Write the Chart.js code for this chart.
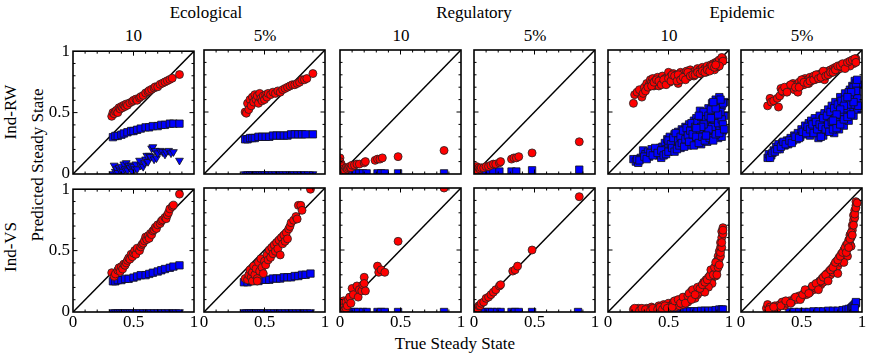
<!DOCTYPE html>
<html><head><meta charset="utf-8">
<script src="https://cdn.jsdelivr.net/npm/chart.js@4/dist/chart.umd.min.js"></script>
<style>
html,body{margin:0;padding:0;background:#fff;}
body{width:872px;height:359px;position:relative;overflow:hidden;font-family:'Liberation Serif','Times New Roman',serif;}
canvas{position:absolute;}
.t{position:absolute;font-size:17px;line-height:17px;white-space:nowrap;transform:translate(-50%,-50%);color:#000;}
.r{transform:translate(-50%,-50%) rotate(-90deg);}
</style></head><body>
<div class="t" style="left:206px;top:11.5px">Ecological</div>
<div class="t" style="left:474px;top:11.5px">Regulatory</div>
<div class="t" style="left:742px;top:11.5px">Epidemic</div>
<div class="t" style="left:133.5px;top:35px">10</div>
<div class="t" style="left:265px;top:35px">5%</div>
<div class="t" style="left:401px;top:35px">10</div>
<div class="t" style="left:535px;top:35px">5%</div>
<div class="t" style="left:669px;top:35px">10</div>
<div class="t" style="left:802px;top:35px">5%</div>
<div class="t r" style="left:10px;top:112px">Ind-RW</div>
<div class="t r" style="left:10px;top:247px">Ind-VS</div>
<div class="t r" style="left:37px;top:165px">Predicted Steady State</div>
<div class="t" style="left:455px;top:343px">True Steady State</div>
<script>
// ---------- tick labels ----------
const tickValues = [0, 0.5, 1];
const tickLabels = ['0', '0.5', '1'];
const minorTicks = [0.1, 0.2, 0.3, 0.4, 0.5, 0.6, 0.7, 0.8, 0.9];
const diagonal = [[0, 0], [1, 1]];

// ---------- Ecological, Ind-RW, 10 ----------
const ecoRW10Circles = [[0.32,0.47],[0.33,0.50],[0.34,0.49],[0.35,0.51],[0.36,0.52],[0.37,0.50],[0.38,0.54],[0.39,0.53],[0.40,0.55],[0.41,0.54],[0.42,0.56],[0.43,0.55],[0.44,0.57],[0.45,0.56],[0.47,0.58],[0.49,0.59],[0.50,0.60],[0.52,0.61],[0.53,0.60],[0.55,0.62],[0.56,0.63],[0.58,0.64],[0.60,0.66],[0.62,0.67],[0.63,0.68],[0.65,0.69],[0.67,0.70],[0.68,0.71],[0.70,0.71],[0.72,0.73],[0.74,0.74],[0.76,0.75],[0.78,0.76],[0.80,0.77],[0.82,0.78],[0.88,0.81]];
const ecoRW10Squares = [[0.33,0.30],[0.35,0.31],[0.37,0.31],[0.40,0.32],[0.42,0.33],[0.45,0.34],[0.48,0.35],[0.50,0.35],[0.53,0.36],[0.56,0.37],[0.60,0.38],[0.63,0.38],[0.66,0.39],[0.70,0.39],[0.73,0.40],[0.76,0.40],[0.80,0.41],[0.83,0.41],[0.88,0.41]];
const ecoRW10Triangles = [[0.33,0.00],[0.34,0.07],[0.35,0.02],[0.36,0.04],[0.37,0.01],[0.38,0.05],[0.39,0.03],[0.40,0.06],[0.41,0.02],[0.42,0.08],[0.43,0.04],[0.44,0.09],[0.45,0.03],[0.46,0.07],[0.47,0.05],[0.48,0.07],[0.49,0.02],[0.50,0.06],[0.51,0.04],[0.52,0.08],[0.53,0.04],[0.55,0.11],[0.56,0.07],[0.58,0.06],[0.59,0.09],[0.60,0.12],[0.61,0.15],[0.62,0.10],[0.63,0.15],[0.64,0.14],[0.65,0.21],[0.66,0.22],[0.67,0.12],[0.68,0.19],[0.69,0.13],[0.70,0.17],[0.72,0.19],[0.74,0.18],[0.76,0.16],[0.77,0.18],[0.79,0.19],[0.81,0.17],[0.83,0.18],[0.88,0.11]];

// ---------- Ecological, Ind-RW, 5% ----------
const ecoRW5Circles = [[0.34,0.50],[0.35,0.49],[0.36,0.57],[0.37,0.52],[0.38,0.60],[0.39,0.55],[0.40,0.62],[0.41,0.58],[0.42,0.64],[0.43,0.60],[0.44,0.63],[0.45,0.57],[0.46,0.65],[0.47,0.61],[0.48,0.59],[0.49,0.63],[0.50,0.60],[0.51,0.64],[0.52,0.62],[0.53,0.65],[0.55,0.64],[0.57,0.66],[0.59,0.65],[0.61,0.67],[0.63,0.66],[0.65,0.68],[0.67,0.69],[0.69,0.70],[0.71,0.71],[0.73,0.72],[0.75,0.72],[0.77,0.73],[0.79,0.74],[0.81,0.76],[0.83,0.76],[0.85,0.77],[0.90,0.81]];
const ecoRW5Squares = [[0.34,0.28],[0.36,0.28],[0.38,0.29],[0.40,0.29],[0.42,0.29],[0.45,0.30],[0.48,0.30],[0.51,0.30],[0.54,0.30],[0.57,0.31],[0.60,0.31],[0.63,0.31],[0.66,0.31],[0.69,0.31],[0.72,0.32],[0.75,0.32],[0.78,0.32],[0.81,0.32],[0.84,0.32],[0.90,0.32]];
const ecoRW5Triangles = [[0.34,0],[0.36,0],[0.38,0],[0.40,0],[0.42,0],[0.44,0],[0.46,0],[0.48,0],[0.50,0],[0.53,0],[0.56,0],[0.59,0],[0.62,0],[0.65,0],[0.68,0],[0.71,0],[0.74,0],[0.77,0],[0.80,0],[0.83,0],[0.86,0],[0.90,0]];

// ---------- Regulatory, Ind-RW ----------
const regRW10Circles = [[0.00,0.13],[0.00,0.10],[0.01,0.08],[0.01,0.05],[0.02,0.03],[0.02,0.06],[0.03,0.02],[0.03,0.04],[0.04,0.03],[0.05,0.05],[0.06,0.04],[0.07,0.05],[0.08,0.06],[0.09,0.05],[0.10,0.07],[0.12,0.07],[0.14,0.08],[0.16,0.08],[0.20,0.09],[0.21,0.10],[0.29,0.11],[0.31,0.12],[0.33,0.12],[0.35,0.13],[0.48,0.14],[0.86,0.19]];
const regRW10Squares = [[0.03,0.005],[0.07,0.005],[0.10,0.005],[0.13,0.005],[0.16,0.005],[0.19,0.005],[0.22,0.005],[0.31,0.005],[0.34,0.005],[0.37,0.005],[0.48,0.005],[0.86,0.005]];
const regRW5Circles = [[0.01,0.04],[0.02,0.06],[0.03,0.03],[0.04,0.05],[0.05,0.04],[0.06,0.05],[0.08,0.05],[0.10,0.06],[0.12,0.06],[0.14,0.07],[0.16,0.08],[0.18,0.08],[0.21,0.09],[0.22,0.10],[0.31,0.12],[0.33,0.13],[0.35,0.13],[0.37,0.14],[0.48,0.17],[0.87,0.26]];
const regRW5Squares = [[0.02,0.005],[0.07,0.01],[0.10,0.01],[0.13,0.01],[0.16,0.015],[0.21,0.02],[0.31,0.02],[0.35,0.02],[0.48,0.03],[0.87,0.035]];

// ---------- Epidemic, Ind-RW ----------
const epiRW10Circles = [[0.21,0.57],[0.22,0.64],[0.24,0.66],[0.26,0.68],[0.28,0.62],[0.29,0.65],[0.30,0.70],[0.31,0.67],[0.32,0.73],[0.34,0.72],[0.35,0.76],[0.36,0.74],[0.37,0.77],[0.38,0.71],[0.39,0.75],[0.40,0.73],[0.41,0.78],[0.42,0.71],[0.43,0.74],[0.44,0.76],[0.45,0.79],[0.46,0.73],[0.47,0.77],[0.48,0.75],[0.49,0.78],[0.50,0.82],[0.51,0.74],[0.52,0.79],[0.53,0.77],[0.54,0.81],[0.55,0.76],[0.56,0.78],[0.57,0.80],[0.58,0.73],[0.59,0.77],[0.60,0.82],[0.61,0.79],[0.62,0.81],[0.63,0.77],[0.64,0.80],[0.65,0.83],[0.66,0.78],[0.67,0.81],[0.68,0.84],[0.69,0.80],[0.70,0.82],[0.71,0.79],[0.72,0.83],[0.73,0.81],[0.74,0.85],[0.75,0.82],[0.76,0.84],[0.77,0.81],[0.78,0.86],[0.79,0.83],[0.80,0.85],[0.81,0.82],[0.82,0.87],[0.83,0.84],[0.84,0.86],[0.85,0.88],[0.86,0.85],[0.87,0.89],[0.88,0.87],[0.89,0.90],[0.90,0.88],[0.91,0.91],[0.92,0.89],[0.93,0.92],[0.94,0.91],[0.95,0.93],[0.93,0.90],[0.90,0.86],[0.88,0.84],
  [0.33,0.70],[0.36,0.71],[0.38,0.74],[0.40,0.76],[0.42,0.75],[0.44,0.72],[0.46,0.76],[0.48,0.72],[0.50,0.77],[0.52,0.75],[0.53,0.80],[0.55,0.79],[0.57,0.75],[0.58,0.80],[0.60,0.76],[0.62,0.78],[0.64,0.76],[0.66,0.82],[0.68,0.79],[0.70,0.80],[0.72,0.80],[0.74,0.82],[0.76,0.81],[0.78,0.83],[0.80,0.82],[0.82,0.84],[0.84,0.83],[0.86,0.87],[0.88,0.86],[0.90,0.90],[0.92,0.92],[0.94,0.94],[0.95,0.91],[0.92,0.87],[0.89,0.88]];
const epiRW10Squares = [[0.21,0.12],[0.23,0.10],[0.25,0.09],[0.27,0.13],[0.29,0.19],[0.31,0.16],[0.33,0.18],[0.34,0.14],[0.36,0.20],[0.38,0.17],[0.40,0.19],[0.42,0.15],[0.43,0.21],[0.44,0.13],[0.45,0.22],[0.46,0.18],[0.47,0.25],[0.48,0.20],[0.49,0.28],[0.50,0.23],[0.51,0.30],[0.52,0.19],[0.53,0.26],[0.54,0.22],[0.55,0.32],[0.56,0.27],[0.57,0.24],[0.58,0.34],[0.59,0.29],[0.60,0.21],[0.61,0.36],[0.62,0.31],[0.63,0.26],[0.64,0.38],[0.65,0.33],[0.66,0.23],[0.67,0.40],[0.68,0.30],[0.69,0.36],[0.70,0.27],[0.71,0.43],[0.72,0.34],[0.73,0.45],[0.74,0.29],[0.75,0.39],[0.76,0.51],[0.77,0.24],[0.78,0.42],[0.79,0.33],[0.80,0.48],[0.81,0.37],[0.82,0.26],[0.83,0.53],[0.84,0.41],[0.85,0.31],[0.86,0.57],[0.87,0.45],[0.88,0.36],[0.89,0.60],[0.90,0.50],[0.91,0.29],[0.92,0.62],[0.93,0.42],[0.94,0.55],[0.95,0.35],[0.96,0.47],[0.96,0.58],[0.94,0.30],[0.92,0.38],[0.90,0.44],[0.88,0.52],
  [0.24,0.12],[0.26,0.11],[0.30,0.14],[0.32,0.12],[0.35,0.17],[0.37,0.15],[0.39,0.21],[0.41,0.17],[0.44,0.19],[0.46,0.15],[0.48,0.16],[0.50,0.18],[0.50,0.27],[0.52,0.24],[0.53,0.21],[0.54,0.29],[0.55,0.18],[0.56,0.33],[0.57,0.20],[0.58,0.27],[0.59,0.23],[0.60,0.30],[0.61,0.25],[0.62,0.35],[0.63,0.22],[0.64,0.28],[0.65,0.37],[0.66,0.31],[0.67,0.26],[0.68,0.35],[0.69,0.41],[0.70,0.32],[0.71,0.23],[0.72,0.38],[0.73,0.30],[0.74,0.42],[0.75,0.25],[0.76,0.36],[0.77,0.46],[0.78,0.30],[0.79,0.50],[0.80,0.27],[0.81,0.44],[0.82,0.34],[0.83,0.47],[0.84,0.29],[0.85,0.52],[0.86,0.38],[0.87,0.27],[0.88,0.44],[0.89,0.32],[0.90,0.56],[0.91,0.41],[0.92,0.33],[0.93,0.50],[0.94,0.44],[0.95,0.57],[0.95,0.40],[0.96,0.36],[0.93,0.60],[0.91,0.48],[0.89,0.53],[0.87,0.58],[0.85,0.45],[0.83,0.36],[0.81,0.31],[0.79,0.40],[0.77,0.38],[0.75,0.47],[0.73,0.37]];
const epiRW5Circles = [[0.22,0.55],[0.24,0.61],[0.25,0.58],[0.27,0.59],[0.30,0.61],[0.31,0.54],[0.32,0.63],[0.33,0.69],[0.35,0.66],[0.37,0.68],[0.39,0.69],[0.40,0.71],[0.42,0.70],[0.43,0.73],[0.44,0.68],[0.46,0.72],[0.47,0.66],[0.48,0.74],[0.49,0.71],[0.50,0.73],[0.51,0.76],[0.52,0.72],[0.53,0.77],[0.54,0.74],[0.55,0.76],[0.56,0.73],[0.57,0.78],[0.58,0.75],[0.59,0.77],[0.60,0.79],[0.61,0.76],[0.62,0.78],[0.63,0.80],[0.64,0.79],[0.65,0.77],[0.66,0.81],[0.67,0.78],[0.68,0.80],[0.69,0.76],[0.70,0.82],[0.71,0.80],[0.72,0.83],[0.73,0.81],[0.74,0.84],[0.75,0.82],[0.76,0.85],[0.77,0.83],[0.78,0.86],[0.79,0.84],[0.80,0.85],[0.81,0.87],[0.82,0.85],[0.83,0.88],[0.84,0.86],[0.85,0.88],[0.86,0.87],[0.87,0.89],[0.88,0.88],[0.89,0.90],[0.90,0.89],[0.91,0.91],[0.92,0.90],[0.93,0.92],[0.94,0.91],[0.95,0.93],[0.93,0.89],[0.90,0.87],
  [0.34,0.67],[0.36,0.70],[0.38,0.66],[0.41,0.72],[0.45,0.70],[0.48,0.70],[0.50,0.76],[0.52,0.74],[0.55,0.73],[0.57,0.75],[0.60,0.76],[0.62,0.80],[0.64,0.77],[0.66,0.78],[0.68,0.83],[0.70,0.79],[0.72,0.80],[0.74,0.82],[0.76,0.82],[0.78,0.84],[0.80,0.87],[0.82,0.87],[0.84,0.89],[0.86,0.85],[0.88,0.90],[0.90,0.91],[0.92,0.92],[0.94,0.93],[0.95,0.90]];
const epiRW5Squares = [[0.22,0.13],[0.23,0.16],[0.25,0.15],[0.27,0.19],[0.29,0.22],[0.31,0.24],[0.32,0.20],[0.34,0.25],[0.36,0.23],[0.38,0.27],[0.39,0.24],[0.41,0.29],[0.43,0.27],[0.44,0.31],[0.46,0.28],[0.47,0.33],[0.49,0.30],[0.50,0.36],[0.52,0.32],[0.53,0.39],[0.55,0.35],[0.56,0.41],[0.57,0.31],[0.58,0.43],[0.60,0.38],[0.61,0.45],[0.62,0.33],[0.63,0.42],[0.64,0.29],[0.65,0.47],[0.66,0.36],[0.67,0.44],[0.68,0.31],[0.69,0.49],[0.70,0.40],[0.71,0.35],[0.72,0.52],[0.73,0.44],[0.74,0.38],[0.75,0.55],[0.76,0.47],[0.77,0.33],[0.78,0.58],[0.79,0.42],[0.80,0.51],[0.81,0.36],[0.82,0.62],[0.83,0.46],[0.84,0.55],[0.85,0.39],[0.86,0.65],[0.87,0.50],[0.88,0.58],[0.89,0.43],[0.90,0.68],[0.91,0.54],[0.92,0.71],[0.93,0.47],[0.94,0.75],[0.95,0.60],[0.96,0.66],[0.96,0.52],[0.97,0.72],[0.94,0.64],
  [0.24,0.13],[0.26,0.17],[0.28,0.18],[0.30,0.20],[0.33,0.22],[0.35,0.26],[0.37,0.24],[0.40,0.27],[0.42,0.25],[0.45,0.30],[0.48,0.29],[0.51,0.34],[0.54,0.33],[0.55,0.38],[0.57,0.36],[0.59,0.40],[0.60,0.33],[0.62,0.42],[0.63,0.36],[0.65,0.40],[0.66,0.30],[0.67,0.38],[0.68,0.45],[0.70,0.36],[0.71,0.47],[0.72,0.40],[0.73,0.34],[0.74,0.50],[0.75,0.42],[0.76,0.36],[0.77,0.53],[0.78,0.45],[0.79,0.37],[0.80,0.56],[0.81,0.48],[0.82,0.40],[0.83,0.59],[0.84,0.50],[0.85,0.44],[0.86,0.60],[0.87,0.53],[0.88,0.46],[0.89,0.66],[0.90,0.56],[0.91,0.48],[0.92,0.63],[0.93,0.70],[0.94,0.56],[0.95,0.73],[0.95,0.67],[0.96,0.61],[0.97,0.55],[0.96,0.76],[0.93,0.58],[0.91,0.66],[0.88,0.62],[0.85,0.55],[0.82,0.52],[0.79,0.48],[0.76,0.43]];

// ---------- Ecological, Ind-VS ----------
const ecoVS10Circles = [[0.32,0.32],[0.34,0.29],[0.35,0.31],[0.37,0.34],[0.38,0.36],[0.39,0.33],[0.40,0.37],[0.41,0.35],[0.42,0.39],[0.43,0.38],[0.44,0.40],[0.45,0.42],[0.46,0.44],[0.47,0.43],[0.48,0.47],[0.49,0.45],[0.50,0.48],[0.51,0.50],[0.52,0.47],[0.53,0.52],[0.55,0.50],[0.56,0.53],[0.57,0.55],[0.58,0.56],[0.59,0.58],[0.60,0.61],[0.61,0.59],[0.62,0.62],[0.63,0.60],[0.64,0.64],[0.65,0.63],[0.66,0.66],[0.67,0.67],[0.68,0.69],[0.69,0.68],[0.70,0.71],[0.72,0.72],[0.73,0.74],[0.74,0.75],[0.76,0.77],[0.77,0.76],[0.78,0.79],[0.79,0.81],[0.80,0.84],[0.82,0.86],[0.83,0.87],[0.88,0.96]];
const ecoVS10Squares = [[0.33,0.25],[0.35,0.25],[0.37,0.26],[0.40,0.26],[0.43,0.27],[0.46,0.27],[0.50,0.28],[0.53,0.29],[0.56,0.30],[0.60,0.30],[0.63,0.31],[0.66,0.32],[0.70,0.33],[0.73,0.34],[0.76,0.35],[0.80,0.36],[0.83,0.37],[0.88,0.38]];
const ecoVS10Triangles = [[0.33,0],[0.35,0],[0.37,0],[0.39,0],[0.41,0],[0.43,0],[0.45,0],[0.47,0],[0.49,0],[0.52,0],[0.55,0],[0.58,0],[0.61,0],[0.64,0],[0.67,0],[0.70,0],[0.73,0],[0.76,0],[0.79,0],[0.82,0],[0.85,0],[0.88,0]];
const ecoVS5Circles = [[0.34,0.27],[0.36,0.26],[0.37,0.30],[0.38,0.34],[0.39,0.28],[0.40,0.32],[0.40,0.25],[0.41,0.37],[0.42,0.30],[0.43,0.35],[0.44,0.27],[0.44,0.25],[0.45,0.40],[0.46,0.33],[0.47,0.43],[0.48,0.36],[0.49,0.31],[0.50,0.41],[0.51,0.38],[0.52,0.46],[0.53,0.42],[0.54,0.50],[0.55,0.44],[0.56,0.52],[0.57,0.47],[0.58,0.54],[0.59,0.49],[0.60,0.56],[0.61,0.51],[0.62,0.58],[0.63,0.46],[0.64,0.60],[0.65,0.55],[0.66,0.62],[0.67,0.57],[0.68,0.64],[0.69,0.59],[0.70,0.67],[0.71,0.69],[0.72,0.72],[0.74,0.74],[0.76,0.77],[0.77,0.75],[0.78,0.86],[0.80,0.86],[0.81,0.82],[0.88,0.99]];
const ecoVS5Squares = [[0.33,0.24],[0.36,0.24],[0.39,0.25],[0.42,0.25],[0.45,0.25],[0.48,0.26],[0.51,0.26],[0.54,0.26],[0.57,0.27],[0.60,0.27],[0.63,0.27],[0.66,0.28],[0.69,0.28],[0.72,0.28],[0.75,0.29],[0.78,0.29],[0.81,0.30],[0.84,0.30],[0.88,0.31]];
const ecoVS5Triangles = [[0.33,0],[0.35,0],[0.37,0],[0.39,0],[0.41,0],[0.43,0],[0.45,0],[0.47,0],[0.49,0],[0.52,0],[0.55,0],[0.58,0],[0.61,0],[0.64,0],[0.67,0],[0.70,0],[0.73,0],[0.76,0],[0.79,0],[0.82,0],[0.85,0],[0.88,0]];

// ---------- Regulatory, Ind-VS ----------
const regVS10Circles = [[0.00,0.02],[0.01,0.05],[0.01,0.08],[0.02,0.03],[0.02,0.06],[0.02,0.00],[0.03,0.04],[0.03,0.09],[0.04,0.02],[0.05,0.08],[0.05,0.03],[0.06,0.05],[0.07,0.10],[0.08,0.12],[0.09,0.07],[0.10,0.19],[0.11,0.14],[0.14,0.21],[0.15,0.12],[0.16,0.18],[0.18,0.17],[0.19,0.22],[0.20,0.28],[0.20,0.23],[0.21,0.17],[0.31,0.37],[0.32,0.32],[0.34,0.34],[0.37,0.32],[0.48,0.57],[0.86,1.0]];
const regVS10Squares = [[0.03,0],[0.06,0],[0.09,0],[0.12,0],[0.15,0],[0.19,0],[0.22,0],[0.31,0],[0.34,0],[0.37,0],[0.48,0],[0.86,0]];
const regVS5Circles = [[0.01,0.01],[0.02,0.02],[0.02,0.03],[0.03,0.03],[0.04,0.05],[0.05,0.05],[0.06,0.07],[0.08,0.08],[0.10,0.11],[0.12,0.12],[0.14,0.14],[0.16,0.16],[0.18,0.18],[0.21,0.21],[0.22,0.22],[0.32,0.33],[0.34,0.34],[0.36,0.37],[0.48,0.50],[0.87,0.93]];
const regVS5Squares = [[0.03,0],[0.06,0],[0.09,0],[0.12,0],[0.15,0],[0.19,0],[0.22,0],[0.31,0],[0.34,0],[0.37,0],[0.48,0],[0.86,0]];

// ---------- Epidemic, Ind-VS ----------
const epiVS10Circles = [[0.21,0.02],[0.23,0.01],[0.25,0.03],[0.27,0.02],[0.30,0.01],[0.32,0.03],[0.34,0.02],[0.36,0.04],[0.38,0.02],[0.40,0.03],[0.42,0.05],[0.44,0.03],[0.46,0.06],[0.48,0.04],[0.50,0.07],[0.51,0.03],[0.52,0.05],[0.54,0.08],[0.55,0.06],[0.56,0.04],[0.57,0.09],[0.58,0.07],[0.59,0.05],[0.60,0.10],[0.61,0.08],[0.62,0.06],[0.63,0.11],[0.64,0.09],[0.65,0.12],[0.66,0.08],[0.67,0.10],[0.68,0.14],[0.69,0.17],[0.70,0.12],[0.71,0.15],[0.72,0.11],[0.73,0.17],[0.74,0.14],[0.75,0.19],[0.76,0.16],[0.77,0.21],[0.78,0.18],[0.79,0.24],[0.80,0.20],[0.81,0.26],[0.82,0.22],[0.83,0.28],[0.84,0.25],[0.85,0.31],[0.86,0.27],[0.87,0.33],[0.88,0.30],[0.89,0.37],[0.90,0.34],[0.90,0.41],[0.91,0.39],[0.91,0.45],[0.92,0.43],[0.92,0.49],[0.93,0.52],[0.93,0.56],[0.94,0.60],[0.94,0.65],[0.95,0.68],[0.95,0.63],[0.89,0.29],[0.86,0.23],[0.83,0.20],[0.80,0.16],
  [0.22,0.03],[0.26,0.01],[0.28,0.03],[0.31,0.02],[0.35,0.01],[0.37,0.03],[0.41,0.02],[0.43,0.04],[0.45,0.02],[0.47,0.05],[0.49,0.03],[0.53,0.04],[0.55,0.09],[0.58,0.10],[0.60,0.07],[0.62,0.12],[0.64,0.07],[0.66,0.13],[0.67,0.15],[0.69,0.10],[0.70,0.18],[0.72,0.14],[0.74,0.20],[0.76,0.19],[0.78,0.22],[0.80,0.24],[0.82,0.26],[0.84,0.29],[0.85,0.34],[0.87,0.30],[0.88,0.36],[0.89,0.40],[0.90,0.30],[0.91,0.36],[0.92,0.38],[0.93,0.45],[0.93,0.48],[0.94,0.52],[0.94,0.56],[0.95,0.66]];
const epiVS10Squares = [[0.47,0],[0.50,0],[0.53,0],[0.56,0],[0.59,0],[0.62,0],[0.65,0.005],[0.68,0.005],[0.71,0.005],[0.74,0.005],[0.77,0.01],[0.80,0.01],[0.83,0.01],[0.86,0.01],[0.89,0.015],[0.92,0.02],[0.94,0.02],[0.95,0.02]];
const epiVS5Circles = [[0.21,0.03],[0.22,0.06],[0.24,0.04],[0.26,0.02],[0.28,0.05],[0.30,0.03],[0.32,0.06],[0.34,0.08],[0.36,0.05],[0.38,0.07],[0.40,0.09],[0.42,0.08],[0.44,0.11],[0.46,0.10],[0.48,0.13],[0.50,0.12],[0.52,0.15],[0.54,0.14],[0.55,0.17],[0.57,0.16],[0.58,0.19],[0.60,0.18],[0.61,0.21],[0.62,0.19],[0.63,0.23],[0.64,0.21],[0.65,0.25],[0.66,0.22],[0.67,0.27],[0.68,0.24],[0.69,0.29],[0.70,0.26],[0.71,0.31],[0.72,0.28],[0.73,0.33],[0.74,0.30],[0.75,0.35],[0.76,0.32],[0.77,0.38],[0.78,0.34],[0.79,0.41],[0.80,0.37],[0.81,0.44],[0.82,0.40],[0.83,0.47],[0.84,0.43],[0.85,0.50],[0.86,0.46],[0.87,0.54],[0.88,0.51],[0.89,0.58],[0.90,0.55],[0.90,0.62],[0.91,0.60],[0.92,0.66],[0.92,0.70],[0.93,0.74],[0.93,0.78],[0.94,0.82],[0.95,0.86],[0.95,0.89],[0.94,0.76],[0.91,0.53],[0.88,0.45],[0.85,0.40],[0.80,0.31],
  [0.23,0.02],[0.27,0.04],[0.33,0.05],[0.37,0.09],[0.41,0.07],[0.45,0.12],[0.49,0.10],[0.51,0.14],[0.53,0.18],[0.56,0.15],[0.59,0.21],[0.62,0.23],[0.64,0.18],[0.66,0.25],[0.68,0.28],[0.70,0.30],[0.72,0.25],[0.74,0.34],[0.76,0.36],[0.78,0.40],[0.80,0.42],[0.82,0.45],[0.84,0.48],[0.86,0.52],[0.87,0.48],[0.88,0.55],[0.89,0.52],[0.90,0.59],[0.91,0.64],[0.92,0.62],[0.93,0.70],[0.94,0.79],[0.95,0.84],[0.96,0.88]];
const epiVS5Squares = [[0.40,0],[0.44,0],[0.48,0],[0.52,0],[0.56,0],[0.60,0.005],[0.64,0.005],[0.68,0.005],[0.72,0.01],[0.76,0.01],[0.80,0.01],[0.84,0.015],[0.87,0.02],[0.89,0.025],[0.91,0.03],[0.92,0.04],[0.93,0.05],[0.94,0.06],[0.95,0.07],[0.95,0.08],[0.94,0.03]];

// ---------- layout ----------
const COLS = [73, 204, 340, 474, 608, 741];
const ROWS = [50, 188];
const PW = 121, PH = 124, PL = 40, PT = 12, PR = 6, PB = 28;

const panels = [
  {c:0, r:0, circles:ecoRW10Circles, squares:ecoRW10Squares, triangles:ecoRW10Triangles},
  {c:1, r:0, circles:ecoRW5Circles, squares:ecoRW5Squares, triangles:ecoRW5Triangles},
  {c:2, r:0, circles:regRW10Circles, squares:regRW10Squares},
  {c:3, r:0, circles:regRW5Circles, squares:regRW5Squares},
  {c:4, r:0, circles:epiRW10Circles, squares:epiRW10Squares},
  {c:5, r:0, circles:epiRW5Circles, squares:epiRW5Squares},
  {c:0, r:1, circles:ecoVS10Circles, squares:ecoVS10Squares, triangles:ecoVS10Triangles},
  {c:1, r:1, circles:ecoVS5Circles, squares:ecoVS5Squares, triangles:ecoVS5Triangles},
  {c:2, r:1, circles:regVS10Circles, squares:regVS10Squares},
  {c:3, r:1, circles:regVS5Circles, squares:regVS5Squares},
  {c:4, r:1, circles:epiVS10Circles, squares:epiVS10Squares},
  {c:5, r:1, circles:epiVS5Circles, squares:epiVS5Squares}
];

const toXY = arr => arr.map(p => ({x: p[0], y: p[1]}));
const FONT = {family: "'Liberation Serif','Times New Roman',serif", size: 17};

const framePlugin = {
  id: 'frame',
  afterDatasetsDraw(chart) {
    const {ctx, chartArea: a, scales: {x, y}} = chart;
    ctx.save();
    ctx.strokeStyle = '#000';
    ctx.lineWidth = 1;
    ctx.beginPath();
    minorTicks.forEach(v => {
      const len = v === 0.5 ? 4.5 : 2.5;
      const px = x.getPixelForValue(v), py = y.getPixelForValue(v);
      ctx.moveTo(px, a.bottom); ctx.lineTo(px, a.bottom - len);
      ctx.moveTo(px, a.top); ctx.lineTo(px, a.top + len);
      ctx.moveTo(a.left, py); ctx.lineTo(a.left + len, py);
      ctx.moveTo(a.right, py); ctx.lineTo(a.right - len, py);
    });
    ctx.stroke();
    ctx.lineWidth = 1.6;
    ctx.strokeRect(a.left, a.top, a.right - a.left, a.bottom - a.top);
    ctx.restore();
  }
};

panels.forEach(p => {
  const cv = document.createElement('canvas');
  const w = PL + PW + PR, h = PT + PH + PB;
  cv.width = w; cv.height = h;
  cv.style.left = (COLS[p.c] - PL) + 'px';
  cv.style.top = (ROWS[p.r] - PT) + 'px';
  cv.style.width = w + 'px'; cv.style.height = h + 'px';
  document.body.appendChild(cv);

  const ds = [{
    type: 'line', data: toXY(diagonal), borderColor: '#000', borderWidth: 1.5,
    pointRadius: 0, fill: false, order: 10
  }];
  if (p.triangles) ds.push({
    type: 'scatter', data: toXY(p.triangles), pointStyle: 'triangle', rotation: 180,
    pointRadius: 4.5, backgroundColor: '#0000ff', borderColor: '#111', borderWidth: 0.8, order: 3
  });
  ds.push({
    type: 'scatter', data: toXY(p.squares), pointStyle: 'rect',
    pointRadius: 5.2, backgroundColor: '#0000ff', borderColor: '#111', borderWidth: 0.8, order: 2
  });
  ds.push({
    type: 'scatter', data: toXY(p.circles), pointStyle: 'circle',
    pointRadius: 4, backgroundColor: '#ff0000', borderColor: '#222', borderWidth: 0.8, order: 1
  });

  const showY = p.c === 0, showX = p.r === 1;
  new Chart(cv, {
    type: 'scatter',
    data: {datasets: ds},
    options: {
      responsive: false, animation: false, devicePixelRatio: 1,
      layout: {padding: {top: PT, right: PR, left: 0, bottom: 0}},
      plugins: {legend: {display: false}, tooltip: {enabled: false}},
      events: [],
      scales: {
        x: {
          type: 'linear', min: 0, max: 1, position: 'bottom',
          grid: {display: false, drawTicks: false}, border: {display: false},
          afterBuildTicks: s => { s.ticks = tickValues.map(v => ({value: v})); },
          ticks: {display: showX, autoSkip: false, maxRotation: 0, padding: 0, color: '#000', font: FONT,
                  callback: (v, i) => tickLabels[i]},
          afterFit: s => { s.height = PB; }
        },
        y: {
          type: 'linear', min: 0, max: 1, position: 'left',
          grid: {display: false, drawTicks: false}, border: {display: false},
          afterBuildTicks: s => { s.ticks = tickValues.map(v => ({value: v})); },
          ticks: {display: showY, autoSkip: false, padding: 3, color: '#000', font: FONT,
                  callback: (v, i) => tickLabels[i]},
          afterFit: s => { s.width = PL; }
        }
      }
    },
    plugins: [framePlugin]
  });
});
</script>
</body></html>
